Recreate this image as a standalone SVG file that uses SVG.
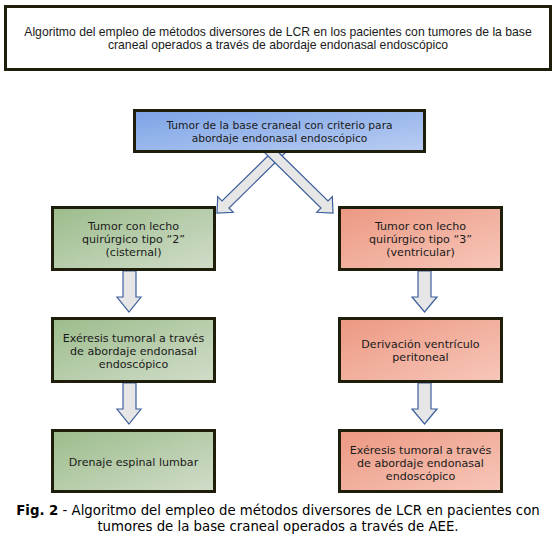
<svg xmlns="http://www.w3.org/2000/svg" width="557" height="537" viewBox="0 0 557 537">
<style>
.box{stroke:#1e1e0a;stroke-width:3}
.arr{fill:#e6e6e6;stroke:#3c5f9c;stroke-width:1.2;stroke-linejoin:miter}
.t{font-family:"DejaVu Sans",Verdana,sans-serif;font-size:11.1px;fill:#1a1a1a;text-anchor:middle}
.t0{font-size:10.7px}
.tt{font-family:"Liberation Sans",Arial,sans-serif;font-size:12.2px;fill:#1a1a1a;text-anchor:middle}
.cap{font-family:"DejaVu Sans",Verdana,sans-serif;font-size:13.3px;fill:#000;text-anchor:middle}
</style>
<defs>
<linearGradient id="gb" x1="0" y1="0" x2="1" y2="1"><stop offset="0" stop-color="#7ca3e6"/><stop offset="1" stop-color="#b9cdf2"/></linearGradient>
<linearGradient id="gg" x1="0" y1="0" x2="1" y2="1"><stop offset="0" stop-color="#9cbc8b"/><stop offset="1" stop-color="#d1ddca"/></linearGradient>
<linearGradient id="gr" x1="0" y1="0" x2="1" y2="1"><stop offset="0" stop-color="#ec9882"/><stop offset="1" stop-color="#f7c7ba"/></linearGradient>
</defs>
<rect width="557" height="537" fill="#fff"/>
<g id="title">
<rect class="box" x="5.5" y="6.5" width="545" height="63" fill="#fff"/>
<text class="tt" x="278" y="36">Algoritmo del empleo de métodos diversores de LCR en los pacientes con tumores de la base</text>
<text class="tt" x="278" y="49">craneal operados a través de abordaje endonasal endoscópico</text>
</g>
<g id="connectors">
<polygon class="arr" points="279.5,144.5 222,201 217.7,196.7 217,213 233.3,212.3 229,208 286.5,151.5"/>
<polygon class="arr" points="270.5,144.5 328,201 332.3,196.7 333,213 316.7,212.3 321,208 263.5,151.5"/>
<polygon class="arr" points="123,271 136,271 136,297 141,297 129,312 117,297 123,297"/>
<polygon class="arr" points="123,383 136,383 136,409 141,409 129,424 117,409 123,409"/>
<polygon class="arr" points="418,271 431,271 431,297 437,297 424.5,312 412,297 418,297"/>
<polygon class="arr" points="418,383 431,383 431,409 437,409 424.5,424 412,409 418,409"/>
</g>
<g id="n0">
<rect class="box" x="134.5" y="110.5" width="290" height="41" fill="url(#gb)"/>
<text class="t t0" x="279.5" y="129">Tumor de la base craneal con criterio para</text>
<text class="t t0" x="279.5" y="142">abordaje endonasal endoscópico</text>
</g>
<g id="g1">
<rect class="box" x="52.5" y="207.5" width="162" height="62" fill="url(#gg)"/>
<text class="t" x="133.5" y="230">Tumor con lecho</text>
<text class="t" x="133.5" y="243">quirúrgico tipo “2”</text>
<text class="t" x="133.5" y="256">(cisternal)</text>
</g>
<g id="g2">
<rect class="box" x="52.5" y="318.5" width="162" height="63" fill="url(#gg)"/>
<text class="t" x="133.5" y="342">Exéresis tumoral a través</text>
<text class="t" x="133.5" y="355">de abordaje endonasal</text>
<text class="t" x="133.5" y="368">endoscópico</text>
</g>
<g id="g3">
<rect class="box" x="52.5" y="430.5" width="162" height="61" fill="url(#gg)"/>
<text class="t" x="133.5" y="466">Drenaje espinal lumbar</text>
</g>
<g id="r1">
<rect class="box" x="339.5" y="207.5" width="162" height="62" fill="url(#gr)"/>
<text class="t" x="420.5" y="230">Tumor con lecho</text>
<text class="t" x="420.5" y="243">quirúrgico tipo “3”</text>
<text class="t" x="420.5" y="256">(ventricular)</text>
</g>
<g id="r2">
<rect class="box" x="339.5" y="318.5" width="162" height="63" fill="url(#gr)"/>
<text class="t" x="420.5" y="348">Derivación ventrículo</text>
<text class="t" x="420.5" y="361">peritoneal</text>
</g>
<g id="r3">
<rect class="box" x="339.5" y="430.5" width="162" height="61" fill="url(#gr)"/>
<text class="t" x="420.5" y="454">Exéresis tumoral a través</text>
<text class="t" x="420.5" y="467">de abordaje endonasal</text>
<text class="t" x="420.5" y="480">endoscópico</text>
</g>
<g id="caption">
<text class="cap" x="278" y="515"><tspan font-weight="bold">Fig. 2</tspan> - Algoritmo del empleo de métodos diversores de LCR en pacientes con</text>
<text class="cap" x="278" y="531">tumores de la base craneal operados a través de AEE.</text>
</g>
</svg>
